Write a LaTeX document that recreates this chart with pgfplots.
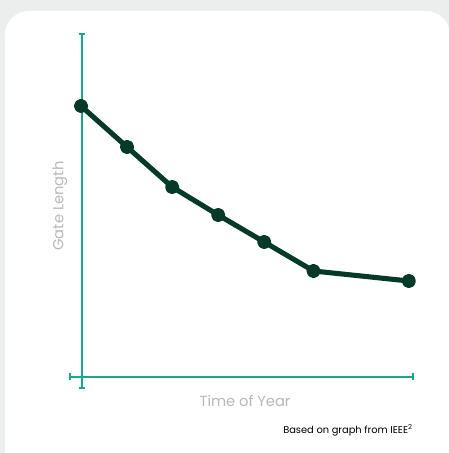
\documentclass[border=0pt]{standalone}
\usepackage{fontspec}
\setmainfont{Poppins}
\usepackage{pgfplots}
\pgfplotsset{compat=1.18}

\definecolor{pagegray}{RGB}{236,238,237}
\definecolor{axisteal}{RGB}{24,166,143}
\definecolor{linegreen}{RGB}{6,58,40}
\definecolor{labelgray}{RGB}{185,185,185}

\begin{document}
\begin{tikzpicture}[x=0.75pt,y=0.75pt]
  \useasboundingbox (0,0) rectangle (449,453);
  \fill[pagegray] (0,0) rectangle (449,453);
  \fill[white, rounded corners=18pt] (5,-40) rectangle (450,442);

  % axis lines with end caps (picture coordinates, 1 unit = 1 px)
  \draw[axisteal, line width=1.5pt] (81.5,419) -- (81.5,65);
  \draw[axisteal, line width=1.1pt] (78.5,419) -- (84.5,419);
  \draw[axisteal, line width=1.1pt] (78.5,65) -- (84.5,65);
  \draw[axisteal, line width=2.2pt] (70,76) -- (413,76);
  \draw[axisteal, line width=1.1pt] (70,72.5) -- (70,79.5);
  \draw[axisteal, line width=1.1pt] (413,72.5) -- (413,79.5);

  \begin{axis}[
    at={(52.5pt,48.75pt)}, anchor=south west,
    scale only axis,
    width=257.25pt, height=265.5pt,
    xmin=-0.237, xmax=7.14,
    ymin=-1.1, ymax=34.3,
    hide axis,
    clip=false
  ]
    \addplot[linegreen, line width=3.8pt, line join=round,
             mark=*, mark size=3.4pt, mark options={solid}]
      coordinates {
        (0,27.1) (0.99,23.0) (1.96,19.0) (2.95,16.2)
        (3.94,13.5) (5.0,10.6) (7.05,9.6)
      };
  \end{axis}

  \node[labelgray, font=\fontsize{11}{13}\selectfont] at (245,52) {Time of Year};
  \node[labelgray, font=\fontsize{11}{13}\selectfont, rotate=90] at (60,247) {Gate Length};
  \node[anchor=base east, inner sep=0pt, font=\fontsize{7.4}{9}\selectfont] at (413,19) {Based on graph from IEEE\textsuperscript{2}};
\end{tikzpicture}
\end{document}
